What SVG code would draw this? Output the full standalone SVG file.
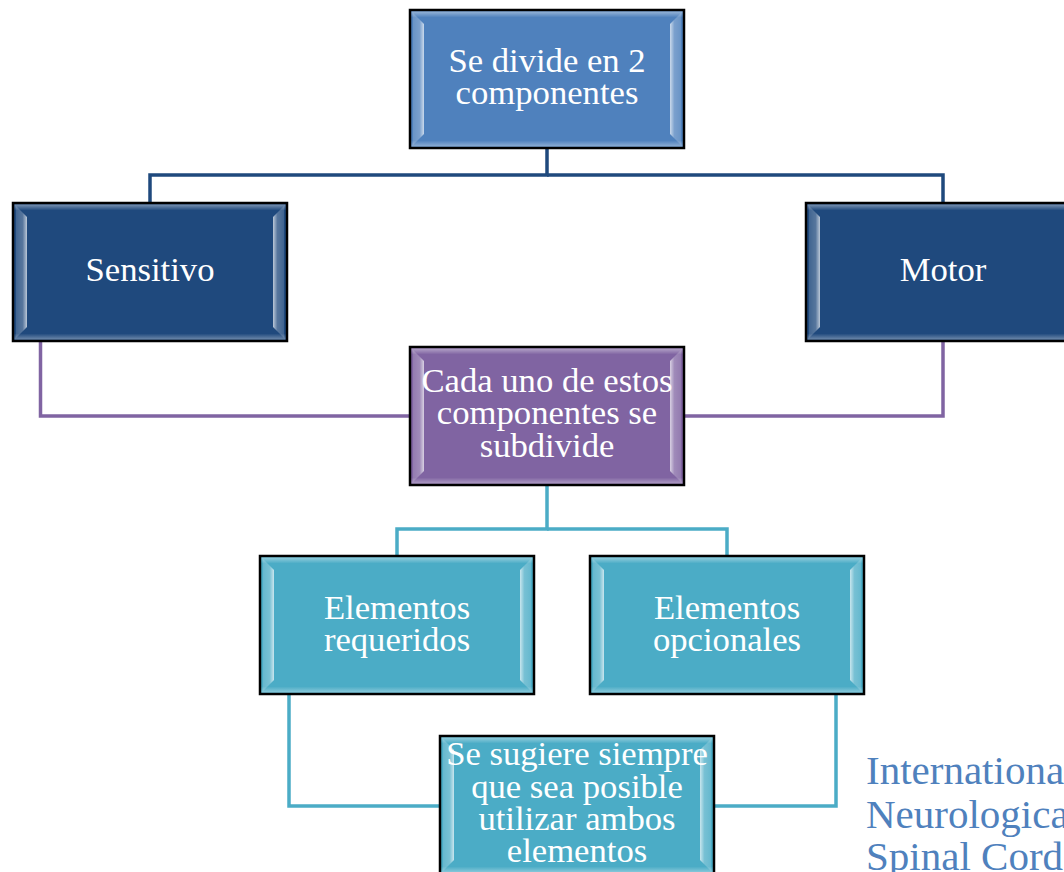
<svg xmlns="http://www.w3.org/2000/svg" width="1064" height="872" viewBox="0 0 1064 872">
<defs>
<linearGradient id="gl" x1="0" y1="0" x2="1" y2="0">
<stop offset="0" stop-color="#fff" stop-opacity="0.15"/>
<stop offset="0.6" stop-color="#fff" stop-opacity="0.25"/>
<stop offset="1" stop-color="#fff" stop-opacity="0.7"/>
</linearGradient>
<linearGradient id="gr" x1="1" y1="0" x2="0" y2="0">
<stop offset="0" stop-color="#fff" stop-opacity="0.15"/>
<stop offset="0.6" stop-color="#fff" stop-opacity="0.25"/>
<stop offset="1" stop-color="#fff" stop-opacity="0.7"/>
</linearGradient>
<linearGradient id="gt" x1="0" y1="0" x2="0" y2="1">
<stop offset="0" stop-color="#fff" stop-opacity="0.4"/>
<stop offset="1" stop-color="#fff" stop-opacity="0"/>
</linearGradient>
<linearGradient id="gb" x1="0" y1="1" x2="0" y2="0">
<stop offset="0" stop-color="#fff" stop-opacity="0.35"/>
<stop offset="1" stop-color="#fff" stop-opacity="0"/>
</linearGradient>
<g id="bevel">
<rect x="0" y="0" width="274" height="138" fill="none" stroke="#000" stroke-width="2.5"/>
<rect x="1.5" y="1.5" width="271" height="6" fill="url(#gt)"/>
<rect x="1.5" y="130.5" width="271" height="6" fill="url(#gb)"/>
<polygon points="3,3 14,14 14,124 3,135" fill="url(#gl)"/>
<polygon points="271,3 260,14 260,124 271,135" fill="url(#gr)"/>
</g>
</defs>
<style>
.t{font-family:"Liberation Serif","DejaVu Serif",serif;font-size:33px;fill:#fff;text-anchor:middle}
.c{fill:none;stroke-width:3.5}
.src{font-family:"Liberation Serif","DejaVu Serif",serif;font-size:41px;fill:#4F81BD}
</style>
<g id="connectors">
<polyline class="c" stroke="#1F497D" points="547,148 547,175 150,175 150,203"/>
<polyline class="c" stroke="#1F497D" points="547,175 943,175 943,203"/>
<polyline class="c" stroke="#8064A2" points="40.5,341 40.5,416 410,416"/>
<polyline class="c" stroke="#8064A2" points="943,341 943,416 684,416"/>
<polyline class="c" stroke="#4BACC6" points="547,485 547,529 397,529 397,556"/>
<polyline class="c" stroke="#4BACC6" points="547,529 727,529 727,556"/>
<polyline class="c" stroke="#4BACC6" points="289,694 289,806 440,806"/>
<polyline class="c" stroke="#4BACC6" points="836,694 836,806 714,806"/>
</g>
<g id="n-top">
<rect x="410" y="10" width="274" height="138" fill="#4F81BD"/>
<use href="#bevel" x="410" y="10"/>
<g transform="translate(547 0) scale(1.05 1)">
<text class="t" x="0" y="72">Se divide en 2</text>
<text class="t" x="0" y="104">componentes</text>
</g>
</g>
<g id="n-sensitivo">
<rect x="13" y="203" width="274" height="138" fill="#1F497D"/>
<use href="#bevel" x="13" y="203"/>
<g transform="translate(150 0) scale(1.05 1)">
<text class="t" x="0" y="281">Sensitivo</text>
</g>
</g>
<g id="n-motor">
<rect x="806" y="203" width="274" height="138" fill="#1F497D"/>
<use href="#bevel" x="806" y="203"/>
<g transform="translate(943 0) scale(1.05 1)">
<text class="t" x="0" y="281">Motor</text>
</g>
</g>
<g id="n-cada">
<rect x="410" y="347" width="274" height="138" fill="#8064A2"/>
<use href="#bevel" x="410" y="347"/>
<g transform="translate(547 0) scale(1.05 1)">
<text class="t" x="0" y="392">Cada uno de estos</text>
<text class="t" x="0" y="424">componentes se</text>
<text class="t" x="0" y="457">subdivide</text>
</g>
</g>
<g id="n-requeridos">
<rect x="260" y="556" width="274" height="138" fill="#4BACC6"/>
<use href="#bevel" x="260" y="556"/>
<g transform="translate(397 0) scale(1.05 1)">
<text class="t" x="0" y="619">Elementos</text>
<text class="t" x="0" y="651">requeridos</text>
</g>
</g>
<g id="n-opcionales">
<rect x="590" y="556" width="274" height="138" fill="#4BACC6"/>
<use href="#bevel" x="590" y="556"/>
<g transform="translate(727 0) scale(1.05 1)">
<text class="t" x="0" y="619">Elementos</text>
<text class="t" x="0" y="651">opcionales</text>
</g>
</g>
<g id="n-sugiere">
<rect x="440" y="736" width="274" height="138" fill="#4BACC6"/>
<use href="#bevel" x="440" y="736"/>
<g transform="translate(577 0) scale(1.05 1)">
<text class="t" x="0" y="765">Se sugiere siempre</text>
<text class="t" x="0" y="798">que sea posible</text>
<text class="t" x="0" y="830">utilizar ambos</text>
<text class="t" x="0" y="862">elementos</text>
</g>
</g>
<g id="source">
<text class="src" x="866" y="784">Internationa</text>
<text class="src" x="866" y="828">Neurologica</text>
<text class="src" x="866" y="870">Spinal Cord</text>
</g>
</svg>
